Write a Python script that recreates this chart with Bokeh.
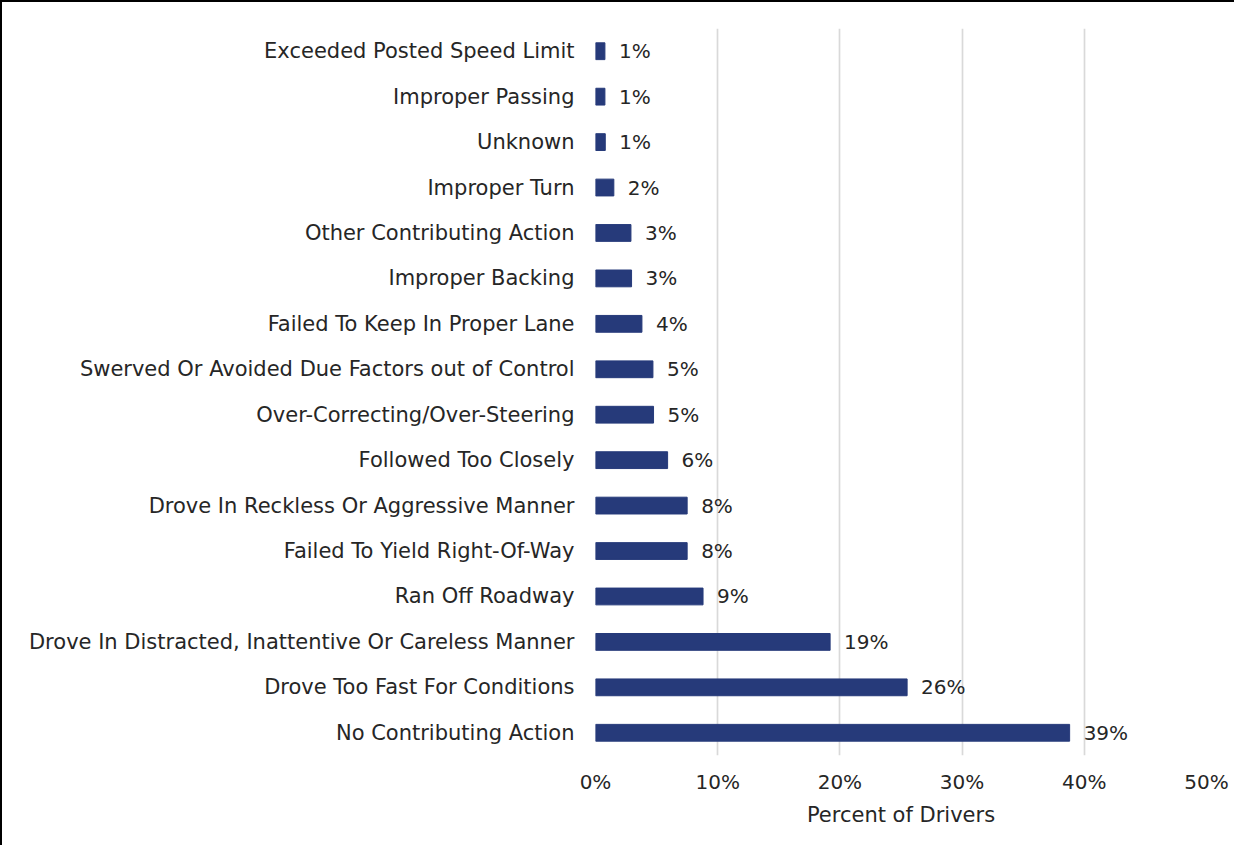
from bokeh.plotting import figure
from bokeh.models import ColumnDataSource, FixedTicker, PrintfTickFormatter, LabelSet
from bokeh.core.properties import value
from bokeh.embed import file_html
from bokeh.resources import INLINE

# Data (bottom to top)
categories = [
    "No Contributing Action",
    "Drove Too Fast For Conditions",
    "Drove In Distracted, Inattentive Or Careless Manner",
    "Ran Off Roadway",
    "Failed To Yield Right-Of-Way",
    "Drove In Reckless Or Aggressive Manner",
    "Followed Too Closely",
    "Over-Correcting/Over-Steering",
    "Swerved Or Avoided Due Factors out of Control",
    "Failed To Keep In Proper Lane",
    "Improper Backing",
    "Other Contributing Action",
    "Improper Turn",
    "Unknown",
    "Improper Passing",
    "Exceeded Posted Speed Limit",
]
values = [38.8, 25.5, 19.2, 8.8, 7.5, 7.5, 5.9, 4.75, 4.7, 3.8, 2.95, 2.9, 1.5, 0.8, 0.77, 0.77]
tick_values = [0, 10, 20, 30, 40, 50]

FONT = "DejaVu Sans"
TEXT_COLOR = "#262626"
BAR_COLOR = "#263A7A"

labels = [f"{round(v):d}%" for v in values]
source = ColumnDataSource(dict(cat=categories, val=values, lab=labels))

p = figure(
    y_range=categories,
    x_range=(0, 50),
    width=1234,
    height=845,
    output_backend="svg",
    toolbar_location=None,
    min_border_left=593,
    min_border_right=30,
    min_border_top=26,
    min_border_bottom=92,
)
p.styles = {"border-top": "2px solid black", "border-left": "2px solid black"}

p.hbar(y="cat", right="val", left=0, height=0.37, source=source, color=BAR_COLOR)

lbl = LabelSet(x="val", y="cat", text="lab", source=source, x_offset=14,
               text_baseline="middle", text_align="left",
               text_font=value(FONT), text_font_size="20px", text_color=TEXT_COLOR)
p.add_layout(lbl)

p.outline_line_color = None
p.background_fill_color = "white"
p.border_fill_color = "white"

p.xgrid.grid_line_color = "#D9D9D9"
p.xgrid.grid_line_width = 1.7
p.ygrid.grid_line_color = None
p.xgrid.level = "underlay"

p.xaxis.ticker = FixedTicker(ticks=tick_values)
p.xaxis.formatter = PrintfTickFormatter(format="%d%%")
p.xaxis.axis_line_color = None
p.xaxis.major_tick_line_color = None
p.xaxis.minor_tick_line_color = None
p.xaxis.major_label_standoff = 8
p.xaxis.major_label_text_font = FONT
p.xaxis.major_label_text_font_size = "20px"
p.xaxis.major_label_text_color = TEXT_COLOR
p.xaxis.axis_label = "Percent of Drivers"
p.xaxis.axis_label_text_font = FONT
p.xaxis.axis_label_text_font_size = "21px"
p.xaxis.axis_label_text_font_style = "normal"
p.xaxis.axis_label_text_color = TEXT_COLOR
p.xaxis.axis_label_standoff = 6

p.yaxis.axis_line_color = None
p.yaxis.major_tick_line_color = None
p.yaxis.minor_tick_line_color = None
p.yaxis.major_label_standoff = 15
p.yaxis.major_label_text_font = FONT
p.yaxis.major_label_text_font_size = "21px"
p.yaxis.major_label_text_color = TEXT_COLOR

p.y_range.range_padding = 0

open("out.html", "w").write(file_html(p, INLINE))
